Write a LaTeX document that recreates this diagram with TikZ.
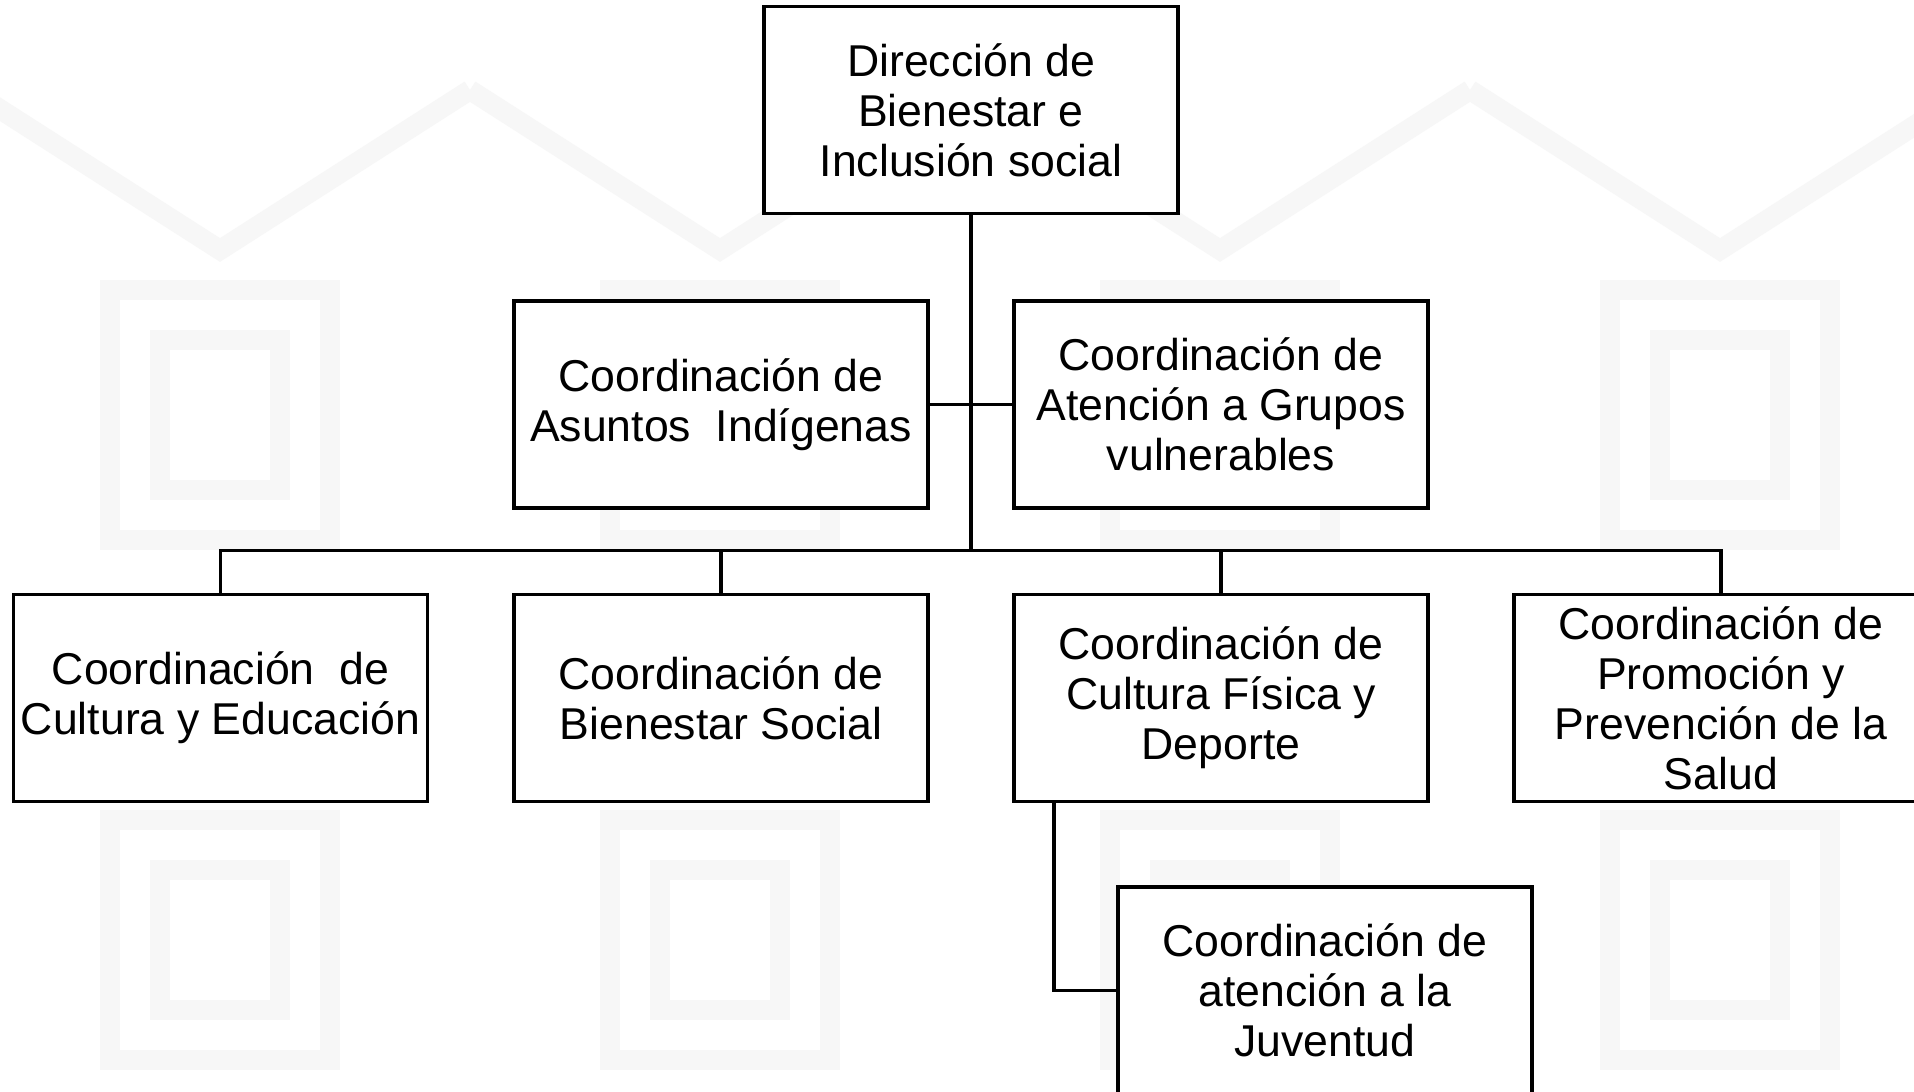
\documentclass[tikz,border=0pt]{standalone}
\usepackage{fontspec}
\setmainfont{Liberation Sans}
\usetikzlibrary{calc}
\begin{document}
\begin{tikzpicture}[x=0.5pt,y=-0.5pt,
  unit/.style={draw=black, line width=1.8pt, fill=white, minimum width=207pt, minimum height=103.5pt,
    align=center, inner sep=0pt, font=\fontsize{22.3}{25}\selectfont},
  link/.style={draw=black, line width=1.8pt}]
\useasboundingbox (0,0) rectangle (1914,1091);
\clip (0,0) rectangle (1914,1091);
\fill[white] (0,0) rectangle (1914,1091);
% faint background pattern
\begin{scope}[draw=black!3, line width=10pt]
  \foreach \cx in {0,500,1000,1500,2000} {
    \draw (\cx+110,290) rectangle (\cx+330,540);
    \draw (\cx+160,340) rectangle (\cx+280,490);
    \draw (\cx+110,820) rectangle (\cx+330,1060);
    \draw (\cx+160,870) rectangle (\cx+280,1010);
    \draw (\cx-30,90) -- (\cx+220,250) -- (\cx+470,90);
  }
\end{scope}
\node[unit] (top) at (971,110) {Dirección de\\Bienestar e\\Inclusión social};
\node[unit] (asuntos) at (721,404.5) {Coordinación de\\Asuntos\ \ Indígenas};
\node[unit] (grupos) at (1221,404.5) {Coordinación de\\Atención a Grupos\\vulnerables};
\node[unit] (cultura) at (220.5,698) {Coordinación\ \ de\\Cultura y Educación};
\node[unit] (bienestar) at (721,698) {Coordinación de\\Bienestar Social};
\node[unit] (fisica) at (1221,698) {Coordinación de\\Cultura Física y\\Deporte};
\node[unit] (promocion) at (1721,698) {Coordinación de\\Promoción y\\Prevención de la\\Salud};
\node[unit] (juventud) at (1325,990.5) {Coordinación de\\atención a la\\Juventud};
\coordinate (bus) at (971,550.5);
\coordinate (juvstem) at ($(fisica.south west)+(42,0)$);
\draw[link] (top.south) -- (bus);
\draw[link] (asuntos.east) -- (grupos.west);
\draw[link] (cultura.north) |- (bus) -| (promocion.north);
\draw[link] (bienestar.north) -- (bienestar.north |- bus);
\draw[link] (fisica.north) -- (fisica.north |- bus);
\draw[link] (juvstem) |- (juventud.west);
\end{tikzpicture}
\end{document}
